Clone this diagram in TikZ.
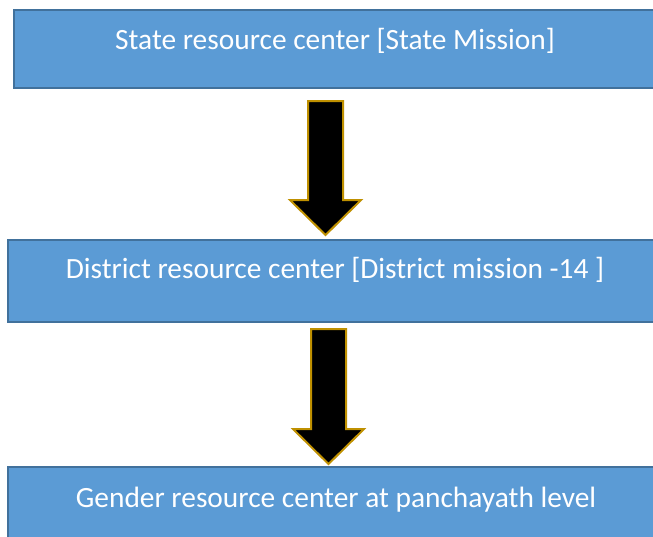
\documentclass[tikz,border=0pt]{standalone}
\usepackage{fontspec}
\setmainfont{Carlito}
\definecolor{boxfill}{HTML}{5B9BD5}
\definecolor{boxline}{HTML}{41719C}
\definecolor{arrline}{HTML}{BF9000}
\begin{document}
\begin{tikzpicture}[x=1pt,y=-1pt,
  levelbox/.style={draw=boxline,line width=2pt,fill=boxfill},
  leveltext/.style={text=white,font=\fontsize{29.4}{33}\selectfont,anchor=base,inner sep=0pt},
  blockarrow/.style={draw=arrline,line width=2pt,fill=black,line join=miter}]
\useasboundingbox (0,0) rectangle (653,536);
\clip (0,0) rectangle (653,536);
\fill[white] (0,0) rectangle (653,536);
% boxes
\draw[levelbox] (14,10) rectangle (662,88);
\draw[levelbox] (8,240) rectangle (662,322);
\draw[levelbox] (8,467) rectangle (662,548);
\node[leveltext] (state) at (335,49.5) {State resource center [State Mission]};
\node[leveltext] (district) at (335,278.5) {District resource center [District mission -14 ]};
\node[leveltext] (gender) at (336,507) {Gender resource center at panchayath level};
% arrows
\draw[blockarrow] (308,101) -- (343,101) -- (343,200) -- (361,200) -- (325.5,235) -- (290,200) -- (308,200) -- cycle;
\draw[blockarrow] (311,329) -- (346,329) -- (346,429) -- (364,429) -- (328.5,464) -- (293,429) -- (311,429) -- cycle;
\end{tikzpicture}
\end{document}
